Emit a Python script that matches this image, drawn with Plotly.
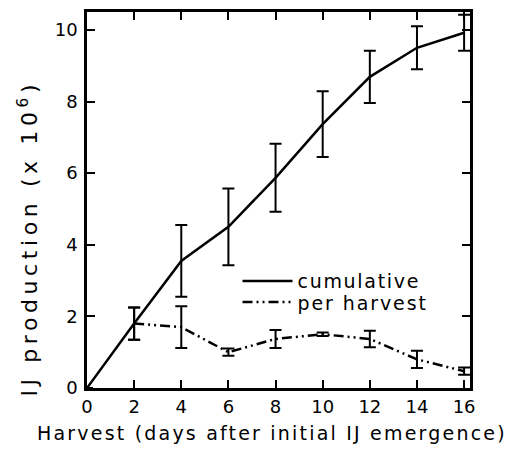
import plotly.graph_objects as go

days = [0, 2, 4, 6, 8, 10, 12, 14, 16]
cumulative = [0, 1.8, 3.55, 4.5, 5.87, 7.37, 8.69, 9.5, 9.92]
cumulative_err = [0, 0.45, 1.0, 1.07, 0.95, 0.92, 0.73, 0.6, 0.5]

harvest_days = [2, 4, 6, 8, 10, 12, 14, 16]
per_harvest = [1.8, 1.7, 1.0, 1.37, 1.5, 1.37, 0.8, 0.47]
per_harvest_err = [0.45, 0.58, 0.1, 0.25, 0.05, 0.23, 0.24, 0.1]

x_ticks = [0, 2, 4, 6, 8, 10, 12, 14, 16]
y_ticks = [0, 2, 4, 6, 8, 10]

x_title = "Harvest (days after initial IJ emergence)"
y_title = "IJ production (x 10<sup>6</sup>)"
names = ["cumulative", "per harvest"]

FONT = "DejaVu Sans"


def spaced(text, px):
    return f'<span style="letter-spacing:{px}px">{text}</span>'


fig = go.Figure()
fig.add_trace(go.Scatter(
    x=days, y=cumulative, mode="lines", name=spaced(names[0], 1.7), legend="legend",
    line=dict(color="black", width=2.5),
    error_y=dict(type="data", array=cumulative_err, visible=True,
                 color="black", thickness=2, width=6),
))
fig.add_trace(go.Scatter(
    x=harvest_days, y=per_harvest, mode="lines", name=spaced(names[1], 1.9), legend="legend2",
    line=dict(color="black", width=2.5, dash="10px,4px,2px,4px,2px,4px"),
    error_y=dict(type="data", array=per_harvest_err, visible=True,
                 color="black", thickness=2, width=6),
))

axis_common = dict(
    showline=True, linecolor="black", linewidth=2.5, mirror="ticks",
    ticks="inside", ticklen=8, tickwidth=2, tickcolor="black",
    showgrid=False, zeroline=False, automargin=False,
    tickfont=dict(family=FONT, size=18, color="black"),
)
fig.update_xaxes(range=[0, 16.25], tickvals=x_ticks, ticklabelstandoff=1, **axis_common)
fig.update_yaxes(range=[0, 10.5], tickvals=y_ticks, ticklabelstandoff=3, **axis_common)

fig.add_annotation(text=spaced(x_title, 2.2),
                   xref="paper", yref="paper", x=0.482, y=-0.12,
                   xanchor="center", yanchor="middle", showarrow=False,
                   font=dict(family=FONT, size=19, color="black"))
fig.add_annotation(text=spaced(y_title, 4.6),
                   xref="paper", yref="paper", x=-0.155, y=0.399,
                   xanchor="center", yanchor="middle", showarrow=False, textangle=-90,
                   font=dict(family=FONT, size=22, color="black"))

legend_common = dict(xanchor="left", yanchor="middle", bgcolor="rgba(0,0,0,0)",
                     font=dict(family=FONT, size=19, color="black"), itemwidth=50)
fig.update_layout(
    width=514, height=446,
    margin=dict(l=79, r=52, t=4, b=66),
    paper_bgcolor="white", plot_bgcolor="white",
    font=dict(family=FONT, color="black"),
    showlegend=True,
    legend=dict(x=0.393, y=0.284, **legend_common),
    legend2=dict(x=0.393, y=0.228, **legend_common),
)

fig.write_html("out.html")
